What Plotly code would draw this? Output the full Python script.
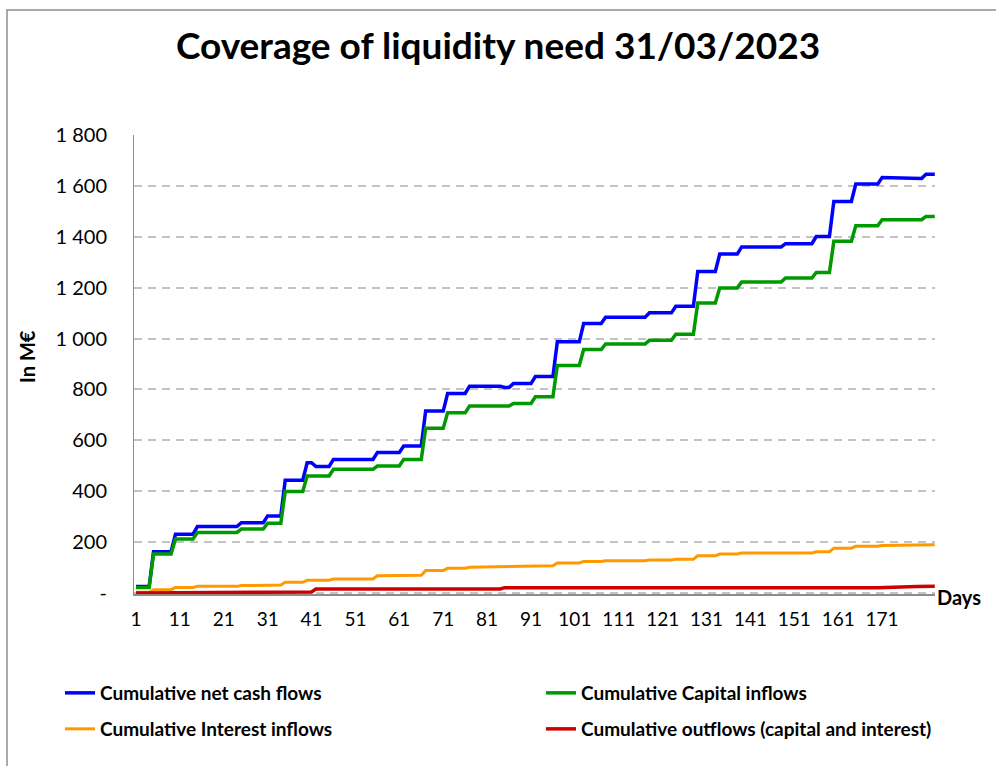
import plotly.graph_objects as go

# ---- data (breakpoints of the cumulative step series) ----
net_days = [1, 4, 5, 9, 10, 14, 15, 24, 25, 30, 31, 34, 35, 39, 40, 41, 42, 45, 46, 55, 56, 61, 62, 66, 67,
            71, 72, 76, 77, 84, 85, 86, 87, 91, 92, 96, 97, 102, 103, 107, 108, 117, 118, 123, 124, 128, 129,
            133, 134, 138, 139, 148, 149, 155, 156, 159, 160, 164, 165, 170, 171, 179, 180, 181, 183]
net_vals = [25, 25, 162, 162, 231, 231, 261, 261, 276, 276, 303, 303, 443, 443, 512, 512, 497, 497, 525, 525,
            552, 552, 578, 578, 715, 715, 784, 784, 813, 813, 808, 808, 823, 823, 851, 851, 987, 987, 1059,
            1059, 1084, 1084, 1101, 1101, 1127, 1127, 1264, 1264, 1332, 1332, 1360, 1360, 1373, 1373, 1401,
            1401, 1539, 1539, 1607, 1607, 1633, 1629, 1629, 1646, 1646]

cap_days = [1, 4, 5, 9, 10, 14, 15, 24, 25, 30, 31, 34, 35, 39, 40, 45, 46, 55, 56, 61, 62, 66, 67, 71, 72,
            76, 77, 86, 87, 91, 92, 96, 97, 102, 103, 107, 108, 117, 118, 123, 124, 128, 129, 133, 134, 138,
            139, 148, 149, 155, 156, 159, 160, 164, 165, 170, 171, 180, 181, 183]
cap_vals = [22, 22, 153, 153, 212, 212, 238, 238, 251, 251, 274, 274, 399, 399, 460, 460, 486, 486, 499, 499,
            525, 525, 647, 647, 708, 708, 735, 735, 745, 745, 771, 771, 894, 894, 957, 957, 979, 979, 993, 993,
            1017, 1017, 1140, 1140, 1199, 1199, 1222, 1222, 1238, 1238, 1260, 1260, 1382, 1382, 1443, 1443,
            1467, 1467, 1480, 1480]

int_days = [1, 4, 5, 9, 10, 14, 15, 24, 25, 30, 31, 34, 35, 39, 40, 45, 46, 55, 56, 61, 62, 66, 67, 71, 72,
            76, 77, 91, 92, 96, 97, 102, 103, 107, 108, 117, 118, 123, 124, 128, 129, 133, 134, 138, 139, 155,
            156, 159, 160, 164, 165, 170, 171, 180, 181, 183]
int_vals = [3, 3, 13, 13, 22, 22, 26, 26, 29, 29, 31, 31, 42, 42, 50, 50, 55, 55, 68, 68, 70, 70, 88, 88, 97,
            97, 101, 104, 107, 107, 118, 118, 124, 124, 127, 127, 130, 130, 133, 133, 146, 146, 153, 153, 157,
            157, 162, 162, 176, 176, 184, 184, 187, 188, 190, 190]

out_days = [1, 30, 40, 41, 42, 84, 85, 170, 179, 183]
out_vals = [0, 1, 4, 4, 16, 16, 21, 21, 25, 26]

x_tick_vals = list(range(1, 172, 10))
x_tick_text = [str(v) for v in x_tick_vals]
y_tick_vals = [0, 200, 400, 600, 800, 1000, 1200, 1400, 1600, 1800]
y_tick_text = ["-", "200", "400", "600", "800", "1 000", "1 200", "1 400", "1 600", "1 800"]

names = ["Cumulative net cash flows", "Cumulative Capital inflows",
         "Cumulative Interest inflows", "Cumulative outflows (capital and interest)"]
colors = ["#0000FF", "#009900", "#FF9900", "#CC0000"]
widths = [3.5, 3.5, 3, 3.5]

FONT = "Lato"
L, R, T, B = 134, 61, 135, 172
PW, PH = 996 - L - R, 766 - T - B


def px_x(p):
    return (p - L) / PW


def px_y(p):
    return (766 - B - p) / PH


fig = go.Figure()
series = [(net_days, net_vals), (cap_days, cap_vals), (int_days, int_vals), (out_days, out_vals)]
legend_ids = ["legend", "legend2", "legend3", "legend4"]
for i, (xs, ys) in enumerate(series):
    fig.add_trace(go.Scatter(x=xs, y=ys, mode="lines", name=names[i],
                             line=dict(color=colors[i], width=widths[i]), legend=legend_ids[i]))

legend_common = dict(orientation="h", xanchor="left", yanchor="middle",
                     bgcolor="rgba(0,0,0,0)", borderwidth=0,
                     font=dict(family=FONT, size=19, color="black", weight="bold"))
# legend item anchor positions (pixels): two columns, two rows
leg_pos = [(60, 693), (541, 693), (60, 729), (541, 729)]

layout_legends = {}
for lid, (lx, ly) in zip(legend_ids, leg_pos):
    layout_legends[lid] = dict(x=px_x(lx), y=px_y(ly), **legend_common)

fig.update_layout(
    width=996, height=766,
    margin=dict(l=L, r=R, t=T, b=B, autoexpand=False),
    paper_bgcolor="white", plot_bgcolor="white",
    title=dict(text="<b>Coverage of liquidity need 31/03/2023</b>", x=0.5, xanchor="center",
               y=1 - 46 / 766, yanchor="middle", yref="container",
               font=dict(family=FONT, size=37, color="black")),
    xaxis=dict(range=[0.55, 183.05], tickmode="array", tickvals=x_tick_vals, ticktext=x_tick_text,
               showgrid=False, zeroline=False, showline=True, linecolor="#8c8c8c", linewidth=1.5,
               ticks="", ticklabelstandoff=7, tickfont=dict(family=FONT, size=19, color="black")),
    yaxis=dict(range=[-4, 1800], tickmode="array", tickvals=y_tick_vals, ticktext=y_tick_text,
               showgrid=True, gridcolor="#c3c3c3", gridwidth=1.5, griddash="8px,6px",
               zeroline=False, showline=True, linecolor="#8c8c8c", linewidth=1,
               ticks="", ticklabelstandoff=22, tickfont=dict(family=FONT, size=20, color="black")),
    showlegend=True,
    **layout_legends,
)

fig.add_annotation(text="<b>In M€</b>", xref="paper", yref="paper", x=px_x(27),
                   y=px_y(357), textangle=-90, showarrow=False, xanchor="center",
                   yanchor="middle", font=dict(family=FONT, size=20, color="black"))
fig.add_annotation(text="<b>Days</b>", xref="paper", yref="paper", x=px_x(935),
                   y=px_y(597), showarrow=False, xanchor="left", yanchor="middle",
                   font=dict(family=FONT, size=20, color="black"))

# outer chart border
fig.add_shape(type="rect", xref="paper", yref="paper",
              x0=px_x(7), x1=px_x(1000), y0=px_y(770), y1=px_y(10),
              line=dict(color="#8f8f8f", width=1.5), fillcolor="rgba(0,0,0,0)", layer="below")

fig.write_html("out.html", config={"displayModeBar": False},
               post_script="document.body.style.margin='0px';")
